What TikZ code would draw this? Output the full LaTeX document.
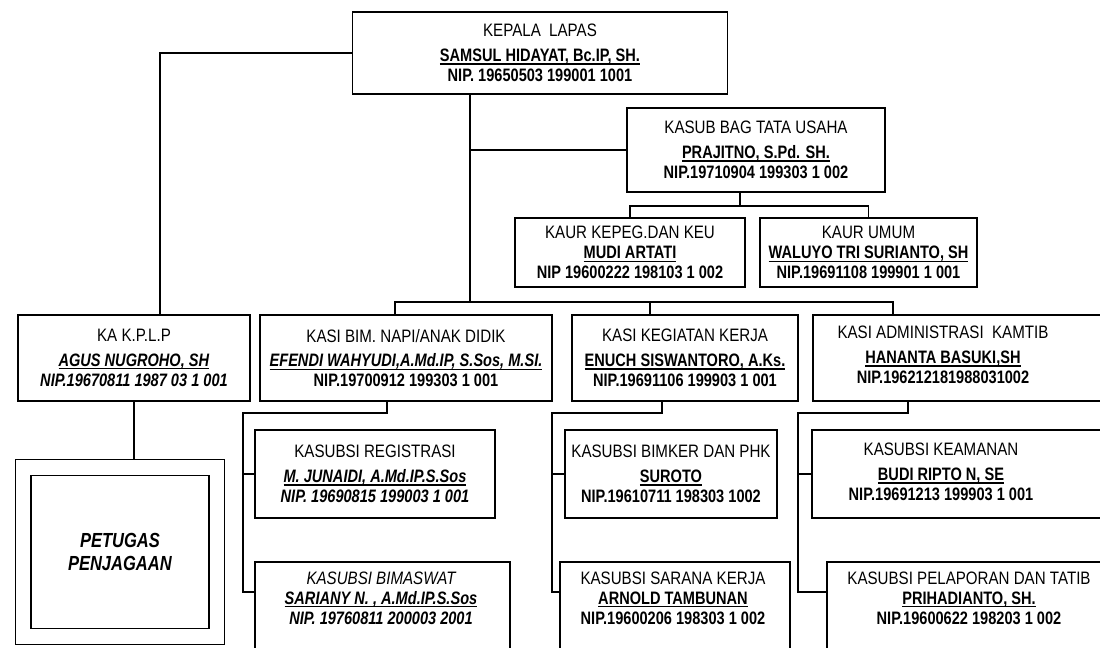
\documentclass[tikz,border=0pt]{standalone}
\usepackage{fontspec}
\setmainfont{Liberation Sans}[FakeStretch=0.84,BoldFeatures={FakeStretch=0.81},BoldItalicFeatures={FakeStretch=0.81}]

\tikzset{
  kotak/.style={draw, line width=0.9pt, rectangle, inner sep=2pt, align=center,
    font=\fontsize{12.8}{14.3}\selectfont},
  isi/.style={align=center, inner sep=0pt, font=\fontsize{12.8}{14.3}\selectfont},
  garis/.style={line width=0.9pt}
}
\newcommand{\garisbawah}[1]{\setbox0\hbox{#1}\rlap{\rule[-2.3pt]{\wd0}{0.8pt}}\box0}
\newcommand{\nama}[1]{\garisbawah{\textbf{#1}}}
\newcommand{\namai}[1]{\garisbawah{\textbf{\itshape #1}}}
\newcommand{\nip}[1]{\textbf{#1}}
\newcommand{\nipi}[1]{\textbf{\itshape #1}}

\begin{document}
\begin{tikzpicture}[x=0.025cm, y=-0.025cm]
  \useasboundingbox (0,0) rectangle (1100,647);
  \clip (0,0) rectangle (1100,647);

  % pimpinan
  \node[kotak, minimum width=9.375cm, minimum height=2.05cm] (kalapas) at (540,53)
    {KEPALA\ \ LAPAS\\[3pt] \nama{SAMSUL HIDAYAT, Bc.IP, SH.}\\ \nip{NIP. 19650503 199001 1001}};
  \node[kotak, minimum width=6.45cm, minimum height=2.1cm] (kasubag) at (756,150)
    {KASUB BAG TATA USAHA\\[3pt] \nama{PRAJITNO, S.Pd. SH.}\\ \nip{NIP.19710904 199303 1 002}};
  \node[kotak, minimum width=5.75cm, minimum height=1.725cm] (kaurkeu) at (630,252.5)
    {KAUR KEPEG.DAN KEU\\ \nama{MUDI ARTATI}\\ \nip{NIP 19600222 198103 1 002}};
  \node[kotak, minimum width=5.425cm, minimum height=1.725cm] (kaurumum) at (868.5,252.5)
    {KAUR UMUM\\ \nama{WALUYO TRI SURIANTO, SH}\\ \nip{NIP.19691108 199901 1 001}};

  % kasi
  \node[kotak, minimum width=5.8cm, minimum height=2.15cm] (kakplp) at (134,358)
    {KA K.P.L.P\\[3pt] \namai{AGUS NUGROHO, SH}\\ \nipi{NIP.19670811 1987 03 1 001}};
  \node[kotak, minimum width=7.3cm, minimum height=2.15cm] (kasibim) at (406,358)
    {KASI BIM. NAPI/ANAK DIDIK\\[3pt] \namai{EFENDI WAHYUDI,A.Md.IP, S.Sos, M.SI.}\\ \nip{NIP.19700912 199303 1 001}};
  \node[kotak, minimum width=5.65cm, minimum height=2.15cm] (kasigiat) at (685,358)
    {KASI KEGIATAN KERJA\\[3pt] \nama{ENUCH SISWANTORO, A.Ks.}\\ \nip{NIP.19691106 199903 1 001}};
  \node[kotak, minimum width=7.55cm, minimum height=2.15cm] (kasiadm) at (964,358) {};
  \node[isi] (kasiadmisi) at (943,355)
    {KASI ADMINISTRASI\ \ KAMTIB\\[3pt] \nama{HANANTA BASUKI,SH}\\ \nip{NIP.196212181988031002}};

  % kasubsi
  \node[kotak, minimum width=6cm, minimum height=2.2cm] (registrasi) at (375,474)
    {KASUBSI REGISTRASI\\[3pt] \namai{M. JUNAIDI, A.Md.IP.S.Sos}\\ \nipi{NIP. 19690815 199003 1 001}};
  \node[kotak, minimum width=5.3cm, minimum height=2.2cm] (bimker) at (671,474)
    {KASUBSI BIMKER DAN PHK\\[3pt] \nama{SUROTO}\\ \nip{NIP.19610711 198303 1002}};
  \node[kotak, minimum width=7.575cm, minimum height=2.2cm] (keamanan) at (963.5,474) {};
  \node[isi] (keamananisi) at (941,472)
    {KASUBSI KEAMANAN\\[3pt] \nama{BUDI RIPTO N, SE}\\ \nip{NIP.19691213 199903 1 001}};

  \node[kotak, minimum width=6.375cm, minimum height=2.95cm] (bimaswat) at (382.5,621) {};
  \node[isi] (bimaswatisi) at (381,598)
    {\itshape KASUBSI BIMASWAT\\ \namai{SARIANY N. , A.Md.IP.S.Sos}\\ \nipi{NIP. 19760811 200003 2001}};
  \node[kotak, minimum width=5.75cm, minimum height=2.95cm] (sarana) at (675,621) {};
  \node[isi] (saranaisi) at (673,598)
    {KASUBSI SARANA KERJA\\ \nama{ARNOLD TAMBUNAN}\\ \nip{NIP.19600206 198303 1 002}};
  \node[kotak, minimum width=7.2cm, minimum height=2.95cm] (pelaporan) at (971,621) {};
  \node[isi] (pelaporanisi) at (969,598)
    {KASUBSI PELAPORAN DAN TATIB\\ \nama{PRIHADIANTO, SH.}\\ \nip{NIP.19600622 198203 1 002}};

  % petugas
  \node[kotak, double, double distance=0.36cm, outer sep=0.2cm, minimum width=4.84cm,
    minimum height=4.225cm, font=\fontsize{14.5}{16.5}\selectfont]
    (petugas) at (120,552) {\textbf{\itshape PETUGAS}\\ \textbf{\itshape PENJAGAAN}};

  % garis
  \coordinate (kiri) at (160,0);
  \coordinate (tengah) at (470,302);
  \coordinate (tu) at (740,206);
  \coordinate (s1) at (395,302);
  \coordinate (s2) at (650,302);
  \coordinate (s3) at (893,302);
  \coordinate (p1) at (387,413);
  \coordinate (r1) at (243,413);
  \coordinate (q1) at (243,592);
  \coordinate (p2) at (662,413);
  \coordinate (r2) at (552,413);
  \coordinate (q2) at (552,592);
  \coordinate (p3) at (908,413);
  \coordinate (r3) at (798,413);
  \coordinate (q3) at (798,592);

  \draw[garis] (kalapas.west) -| (kiri |- kakplp.north);
  \draw[garis] (kakplp.south) -- (kakplp.south |- petugas.north);
  \draw[garis] (kalapas.south -| tengah) -- (tengah);
  \draw[garis] (kasubag.west) -- (kasubag.west -| tengah);
  \draw[garis] (kasubag.south -| tu) -- (tu);
  \draw[garis] (kaurkeu.north) |- (tu) -| (kaurumum.north);
  \draw[garis] (s1 |- kasibim.north) -- (s1) -- (s3) -- (s3 |- kasiadm.north);
  \draw[garis] (s2) -- (s2 |- kasigiat.north);

  \draw[garis] (p1 |- kasibim.south) -- (p1) -- (r1) -- (q1) -- (q1 -| bimaswat.west);
  \draw[garis] (registrasi.west) -- (registrasi.west -| r1);
  \draw[garis] (p2 |- kasigiat.south) -- (p2) -- (r2) -- (q2) -- (q2 -| sarana.west);
  \draw[garis] (bimker.west) -- (bimker.west -| r2);
  \draw[garis] (p3 |- kasiadm.south) -- (p3) -- (r3) -- (q3) -- (q3 -| pelaporan.west);
  \draw[garis] (keamanan.west) -- (keamanan.west -| r3);
\end{tikzpicture}
\end{document}
